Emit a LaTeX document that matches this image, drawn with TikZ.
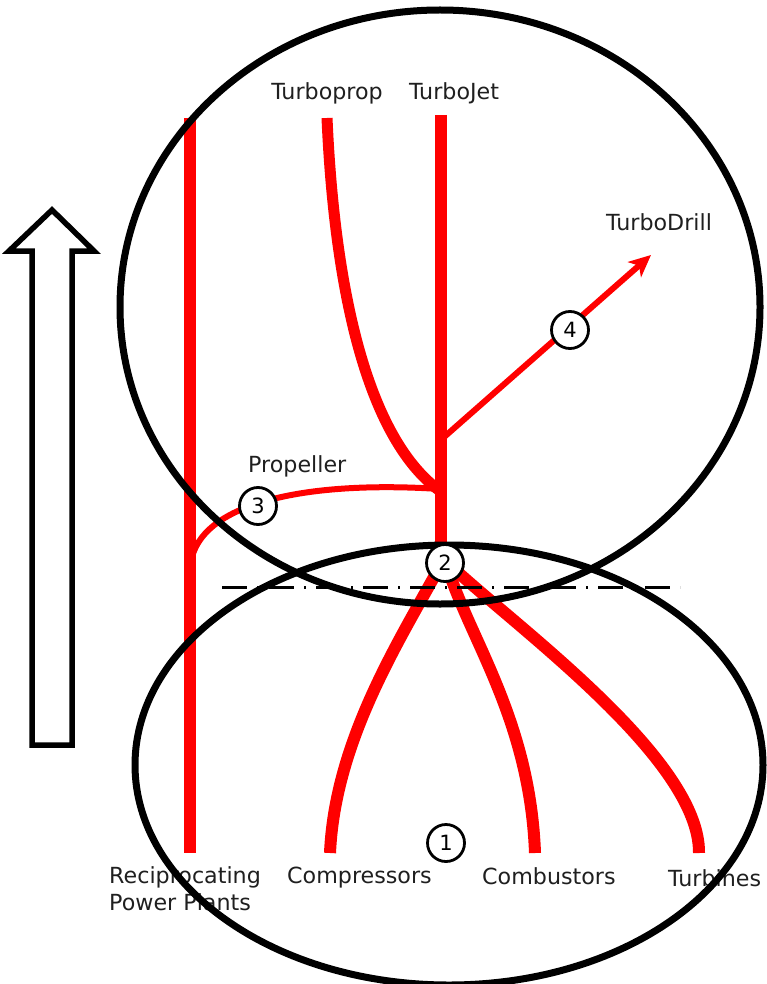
\documentclass[tikz,border=0pt]{standalone}
\usepackage{fontspec}
\setmainfont{DejaVu Sans}
\usetikzlibrary{arrows.meta}
\begin{document}
\begin{tikzpicture}[x=1pt,y=-1pt,
  lbl/.style={inner sep=0pt, font=\fontsize{22.2}{26}\selectfont, text=black!88},
  numc/.style={circle, draw=black, line width=2.8pt, fill=white, minimum size=37pt, inner sep=0pt, font=\fontsize{21}{24}\selectfont},
  thick red/.style={draw=red, line width=12pt},
  thin red/.style={draw=red, line width=6pt},
  ring/.style={draw=black, line width=7pt}]
\useasboundingbox (0,0) rectangle (766,984);
% big hollow arrow
\draw[line width=5.5pt, line join=miter, fill=white] (32,745) -- (32,251) -- (9,251) -- (52,210) -- (94,251) -- (72,251) -- (72,745) -- cycle;
% coordinates
\coordinate (rtop) at (190,118);
\coordinate (rbot) at (190,853);
\coordinate (jtop) at (441,115);
\coordinate (jbot) at (441,560);
\coordinate (ptop) at (327,118);
\coordinate (pj) at (440,491);
\coordinate (prj) at (440,489);
\coordinate (prr) at (191,562);
\coordinate (dj) at (443,438);
\coordinate (td) at (651,255);
\coordinate (cst) at (330,853);
\coordinate (cbt) at (535,853);
\coordinate (tbt) at (699,853);
\coordinate (dl) at (222,587);
\coordinate (dr) at (680,587);
% labels
\node[lbl, anchor=base] (turboprop) at (327,100) {Turboprop};
\node[lbl, anchor=base] (turbojet) at (454,100) {TurboJet};
\node[lbl, anchor=base] (turbodrill) at (659,230) {TurboDrill};
\node[lbl, anchor=base west] (propeller) at (248,472) {Propeller};
\node[lbl, anchor=base west] (recip1) at (109,883) {Reciprocating};
\node[lbl, anchor=base west] (recip2) at (109,910) {Power Plants};
\node[lbl, anchor=base west] (compressors) at (287,883) {Compressors};
\node[lbl, anchor=base west] (combustors) at (482,884) {Combustors};
\node[lbl, anchor=base west] (turbines) at (668,886) {Turbines};
% red lines
\draw[thick red] (rtop) -- (rbot);
\draw[thick red] (jtop) -- (jbot);
\draw[draw=red, line width=11pt] (ptop) .. controls (335,300) and (370,440) .. (pj);
\draw[thin red] (prj) .. controls (300,480) and (200,505) .. (prr);
\draw[thin red, -{Stealth[length=22pt,width=20pt,inset=6pt]}] (dj) -- (td);
\draw[thick red] (440,566) .. controls (400,640) and (335,740) .. (cst);
\draw[thick red] (447,566) .. controls (470,640) and (530,720) .. (cbt);
\draw[thick red] (451,566) .. controls (520,630) and (700,760) .. (tbt);
% ellipses and dashed line
\draw[ring] (440,307) ellipse [x radius=320pt, y radius=297pt];
\draw[ring] (449,765) ellipse [x radius=314pt, y radius=220pt];
\draw[line width=3pt, dash pattern=on 25pt off 10pt on 2pt off 10pt] (dl) -- (dr);
% numbered circles
\node[numc] (n1) at (446,843) {1};
\node[numc] (n2) at (445,563) {2};
\node[numc] (n3) at (258,506) {3};
\node[numc] (n4) at (570,330) {4};
\end{tikzpicture}
\end{document}
